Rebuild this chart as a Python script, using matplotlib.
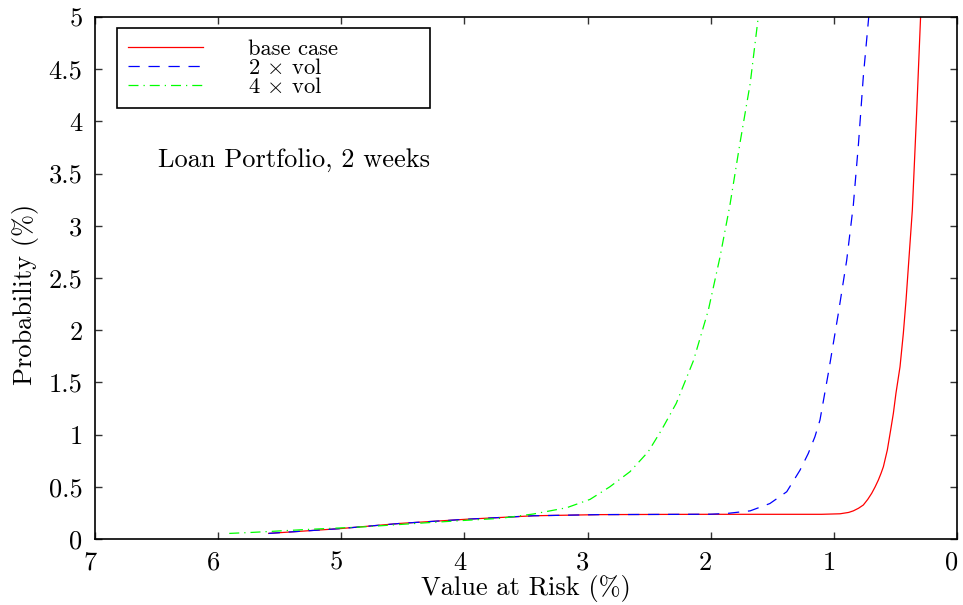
import matplotlib
matplotlib.use("Agg")
import matplotlib.pyplot as plt
import matplotlib.transforms as mtransforms

plt.rcParams['font.family'] = ['cmr10', 'DejaVu Serif']
plt.rcParams['mathtext.fontset'] = 'cm'
plt.rcParams['axes.formatter.use_mathtext'] = True

# Data
base_x = [5.59, 5.30, 5.01, 4.52, 3.98, 3.44, 2.90, 2.40, 2.00, 1.50, 1.10, 0.95, 0.88, 0.842,
          0.80, 0.761, 0.725, 0.693, 0.665, 0.639, 0.617, 0.598, 0.566, 0.539, 0.517, 0.496,
          0.463, 0.436, 0.414, 0.395, 0.376, 0.363, 0.327, 0.296]
base_y = [0.054, 0.077, 0.10, 0.15, 0.19, 0.223, 0.234, 0.236, 0.237, 0.237, 0.237, 0.242, 0.255, 0.27,
          0.295, 0.326, 0.38, 0.438, 0.50, 0.565, 0.63, 0.693, 0.853, 1.044, 1.204, 1.396,
          1.65, 1.97, 2.29, 2.61, 2.93, 3.15, 4.11, 5.0]

vol2_x = [5.59, 5.01, 4.52, 3.98, 3.44, 2.90, 2.40, 2.00, 1.87, 1.68, 1.52, 1.383, 1.275, 1.208,
          1.154, 1.113, 1.045, 0.964, 0.896, 0.842, 0.80, 0.761, 0.717]
vol2_y = [0.054, 0.10, 0.15, 0.19, 0.223, 0.234, 0.236, 0.238, 0.245, 0.27, 0.34, 0.453, 0.66, 0.82,
          0.98, 1.14, 1.59, 2.16, 2.67, 3.20, 3.79, 4.43, 5.0]

vol4_x = [5.91, 5.72, 5.26, 4.80, 4.39, 3.98, 3.71, 3.44, 3.17, 2.98, 2.82, 2.656, 2.508, 2.40,
          2.28, 2.14, 2.02, 1.925, 1.844, 1.763, 1.68, 1.614]
vol4_y = [0.054, 0.064, 0.093, 0.118, 0.15, 0.18, 0.198, 0.24, 0.30, 0.38, 0.50, 0.645, 0.836, 1.044,
          1.30, 1.71, 2.19, 2.70, 3.20, 3.79, 4.36, 5.0]

labels = ['base case', r'2 $\times$ vol', r'4 $\times$ vol']
x_ticks = [0, 1, 2, 3, 4, 5, 6, 7]
y_ticks = [0, 0.5, 1, 1.5, 2, 2.5, 3, 3.5, 4, 4.5, 5]
y_tick_labels = ['0', '0.5', '1', '1.5', '2', '2.5', '3', '3.5', '4', '4.5', '5']

fig = plt.figure(figsize=(9.63, 6.05), dpi=100)
ax = fig.add_axes([0.0987, 0.109, 0.8951, 0.863])

ax.plot(base_x, base_y, color='#ff0000', lw=0.9, label=labels[0])
ax.plot(vol2_x, vol2_y, color='#0000ff', lw=0.9, dashes=(9, 7), label=labels[1])
ax.plot(vol4_x, vol4_y, color='#00ff00', lw=0.9, dashes=(8, 4, 1, 4), label=labels[2])

ax.set_xlim(7, 0)
ax.set_ylim(0, 5)
ax.set_xticks(x_ticks)
ax.set_xticklabels([str(t) for t in x_ticks])
ax.set_yticks(y_ticks)
ax.set_yticklabels(y_tick_labels)
ax.tick_params(direction='in', top=True, right=True, length=5, width=1.0,
               labelsize=19, color='#333333')
ax.tick_params(axis='x', pad=8.5)
ax.tick_params(axis='y', pad=9)
shift = mtransforms.ScaledTranslation(-5 / 100, 0, fig.dpi_scale_trans)
for lab in ax.get_xticklabels():
    lab.set_transform(lab.get_transform() + shift)
for s in ax.spines.values():
    s.set_linewidth(1.2)

ax.set_xlabel('Value at Risk (%)', fontsize=19)
ax.set_ylabel('Probability (%)', fontsize=19)
ax.xaxis.set_label_coords(0.4994, -0.069)
ax.yaxis.set_label_coords(-0.065, 0.469)

ax.text(6.49, 3.63, 'Loan Portfolio, 2 weeks', fontsize=19, ha='left', va='center')

leg = ax.legend(loc='upper left', bbox_to_anchor=(0.0255, 0.0, 0.363, 0.979), mode='expand',
                fontsize=16.2, frameon=True, fancybox=False, edgecolor='black', framealpha=1,
                handlelength=3.3, handletextpad=2.0, labelspacing=-0.05,
                borderpad=0.5, borderaxespad=0)
leg.get_frame().set_linewidth(1.2)

fig.savefig('out.png', dpi=100)
